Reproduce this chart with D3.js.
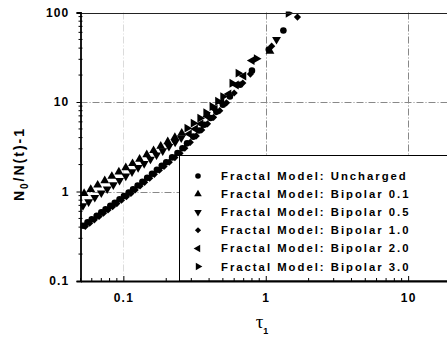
<!DOCTYPE html>
<html>
<head>
<meta charset="utf-8">
<script src="https://cdn.jsdelivr.net/npm/d3@7"></script>
<style>
  html, body { margin: 0; padding: 0; background: #fff; }
  svg { display: block; }
  .tick text { font-family: "Liberation Sans", Arial, sans-serif; font-weight: bold; font-size: 12px; letter-spacing: 1.2px; fill: #000; }
</style>
</head>
<body>
<svg id="chart"></svg>
<script>
// series values: [tau1, N0/N(t)-1]
const uncharged = [
  [0.052, 0.415], [0.056, 0.452], [0.060, 0.489], [0.065, 0.536], [0.070, 0.584],
  [0.075, 0.632], [0.081, 0.691], [0.087, 0.750], [0.094, 0.820], [0.101, 0.891],
  [0.109, 0.972], [0.117, 1.059], [0.126, 1.166], [0.136, 1.287], [0.147, 1.424],
  [0.159, 1.577], [0.172, 1.747], [0.186, 1.934], [0.20, 2.125], [0.22, 2.405],
  [0.24, 2.693], [0.26, 3.04], [0.28, 3.45], [0.31, 4.10], [0.34, 4.81],
  [0.37, 5.56], [0.41, 6.62], [0.45, 7.76], [0.50, 9.30], [0.56, 11.5],
  [0.66, 15.6], [0.80, 22.4], [1.05, 38.6], [1.33, 63]
];
const bipolar01 = [
  [0.053, 0.951], [0.059, 1.056], [0.066, 1.180], [0.074, 1.320], [0.083, 1.478],
  [0.093, 1.653], [0.104, 1.845], [0.116, 2.054], [0.130, 2.298], [0.146, 2.576],
  [0.163, 2.872], [0.183, 3.218], [0.205, 3.598], [0.23, 4.030], [0.257, 4.495],
  [1.07, 37]
];
const bipolar05 = [
  [0.052, 0.694], [0.057, 0.768], [0.063, 0.857], [0.070, 0.962], [0.077, 1.067],
  [0.085, 1.189], [0.094, 1.328], [0.104, 1.483], [0.115, 1.656], [0.127, 1.846],
  [0.140, 2.053], [0.155, 2.296], [0.171, 2.557], [0.189, 2.852], [0.209, 3.185],
  [0.231, 3.554], [0.255, 3.96], [1.19, 50]
];
const bipolar10 = [
  [0.054, 0.407], [0.058, 0.442], [0.0625, 0.482], [0.0675, 0.527], [0.0725, 0.572],
  [0.078, 0.622], [0.084, 0.677], [0.090, 0.733], [0.097, 0.799], [0.105, 0.875],
  [0.113, 0.951], [0.121, 1.040], [0.131, 1.152], [0.141, 1.268], [0.153, 1.410],
  [0.165, 1.556], [0.179, 1.729], [0.193, 1.907], [0.21, 2.128], [0.23, 2.396],
  [0.25, 2.670], [0.27, 3.05], [0.295, 3.54], [0.325, 4.18], [0.355, 4.87],
  [0.39, 5.7], [0.43, 6.75], [0.475, 8.0], [0.53, 9.8], [0.60, 12.6],
  [0.69, 16.3], [0.78, 20.5], [1.10, 42], [1.67, 89]
];
const bipolar20 = [
  [0.29, 4.4], [0.32, 5.0], [0.35, 5.7], [0.39, 6.9], [0.44, 8.3],
  [0.49, 9.9], [0.55, 12.3], [0.62, 15.5], [0.70, 19.5], [0.80, 29]
];
const bipolar30 = [
  [0.28, 5.1], [0.31, 5.8], [0.345, 6.6], [0.38, 7.6], [0.42, 8.9], [0.46, 10.2],
  [0.50, 11.5], [0.58, 16.2], [0.64, 21], [0.86, 30.5], [1.44, 98]
];

const seriesNames = [
  'Fractal Model: Uncharged',
  'Fractal Model: Bipolar 0.1',
  'Fractal Model: Bipolar 0.5',
  'Fractal Model: Bipolar 1.0',
  'Fractal Model: Bipolar 2.0',
  'Fractal Model: Bipolar 3.0'
];
const seriesData = [uncharged, bipolar01, bipolar05, bipolar10, bipolar20, bipolar30];
const xTicks = [0.1, 1, 10];
const yTicks = [0.1, 1, 10, 100];

const width = 447, height = 337;
const plotLeft = 80.5, plotBottom = 281, plotTop = 12.5;

const svg = d3.select('#chart')
  .attr('width', width)
  .attr('height', height);

const x = d3.scaleLog().domain([0.05, 20]).range([plotLeft, 451]);
const y = d3.scaleLog().domain([0.1, 100]).range([plotBottom, plotTop]);

// marker shapes: circle, up, down, diamond, left, right
const tri = d3.symbol().type(d3.symbolTriangle).size(34)();
const markers = [
  { path: d3.symbol().type(d3.symbolCircle).size(34)(), rot: 0 },
  { path: tri, rot: 0 },
  { path: tri, rot: 180 },
  { path: d3.symbol().type(d3.symbolSquare).size(26)(), rot: 45 },
  { path: tri, rot: -90 },
  { path: tri, rot: 90 }
];

svg.append('defs').append('clipPath').attr('id', 'plot-clip')
  .append('rect')
  .attr('x', plotLeft).attr('y', plotTop - 1)
  .attr('width', width - plotLeft).attr('height', plotBottom - plotTop + 1);

// grid
const gridStyle = g => g.attr('stroke', '#888').attr('stroke-width', 1)
  .attr('stroke-dasharray', '7,2,1,2');
svg.append('g').call(gridStyle)
  .selectAll('line').data([1, 10]).enter().append('line')
  .attr('x1', plotLeft).attr('x2', width)
  .attr('y1', d => Math.round(y(d)) + 0.5).attr('y2', d => Math.round(y(d)) + 0.5);
svg.append('g').call(gridStyle)
  .selectAll('line').data(xTicks).enter().append('line')
  .attr('stroke-opacity', d => d === 0.1 ? 0.3 : 1)
  .attr('x1', d => Math.round(x(d)) + 0.5).attr('x2', d => Math.round(x(d)) + 0.5)
  .attr('y1', plotTop).attr('y2', plotBottom);

// points
const plot = svg.append('g').attr('clip-path', 'url(#plot-clip)');
seriesData.forEach((data, i) => {
  plot.append('g')
    .selectAll('path')
    .data(data)
    .enter()
    .append('path')
    .attr('d', markers[i].path)
    .attr('fill', '#000')
    .attr('transform', d => `translate(${x(d[0])},${y(d[1])}) rotate(${markers[i].rot})`);
});

// legend
const legend = svg.append('g');
legend.append('rect')
  .attr('x', 179.5).attr('y', 155.5)
  .attr('width', 300).attr('height', plotBottom - 155.5)
  .attr('fill', '#fff').attr('stroke', '#000').attr('stroke-width', 1);
seriesNames.forEach((name, i) => {
  const ry = 176 + i * 18.1;
  legend.append('path')
    .attr('d', markers[i].path)
    .attr('fill', '#000')
    .attr('transform', `translate(198,${ry}) rotate(${markers[i].rot}) scale(0.85)`);
  legend.append('text')
    .attr('x', 221).attr('y', ry + 4)
    .attr('font-family', '"Liberation Sans", Arial, sans-serif')
    .attr('font-weight', 'bold').attr('font-size', 11.3)
    .attr('letter-spacing', 2.0)
    .text(name);
});

// top frame line at 100
svg.append('line')
  .attr('x1', plotLeft).attr('x2', width)
  .attr('y1', Math.round(y(100)) + 0.5).attr('y2', Math.round(y(100)) + 0.5)
  .attr('stroke', '#222').attr('stroke-width', 1.2);

// y axis
const yAxis = svg.append('g')
  .attr('transform', `translate(${plotLeft},0)`)
  .call(d3.axisLeft(y).tickValues(yTicks).tickFormat(d => d).tickSize(4).tickPadding(7));
yAxis.select('.domain').attr('stroke-width', 1.8);
svg.append('g').attr('transform', `translate(${plotLeft},0)`)
  .selectAll('line').data(y.ticks().filter(d => !yTicks.includes(d))).enter().append('line')
  .attr('x1', -2).attr('x2', 2)
  .attr('y1', d => y(d)).attr('y2', d => y(d))
  .attr('stroke', '#000');

// x axis
const xAxis = svg.append('g')
  .attr('transform', `translate(0,${plotBottom})`)
  .call(d3.axisBottom(x).tickValues(xTicks).tickFormat(d => d).tickSizeInner(-5).tickSizeOuter(0).tickPadding(12));
xAxis.select('.domain').attr('stroke-width', 1.8);
svg.append('g').attr('transform', `translate(0,${plotBottom})`)
  .selectAll('line').data(x.ticks().filter(d => !xTicks.includes(d))).enter().append('line')
  .attr('x1', d => x(d)).attr('x2', d => x(d))
  .attr('y1', 0).attr('y2', -3)
  .attr('stroke', '#000');

// axis titles
const yTitle = svg.append('text')
  .attr('transform', 'translate(24,164) rotate(-90)')
  .attr('text-anchor', 'middle')
  .attr('font-family', '"Liberation Sans", Arial, sans-serif')
  .attr('font-weight', 'bold').attr('font-size', 14)
  .attr('letter-spacing', 2);
yTitle.append('tspan').text('N');
yTitle.append('tspan').attr('font-size', 10).attr('dy', 4).text('0');
yTitle.append('tspan').attr('dy', -4).text('/N(t)-1');

const xTitle = svg.append('text')
  .attr('x', 262).attr('y', 328)
  .attr('text-anchor', 'middle')
  .attr('font-family', '"Liberation Serif", "Times New Roman", serif')
  .attr('font-size', 19);
xTitle.append('tspan').text('τ');
xTitle.append('tspan').attr('font-size', 9).attr('font-weight', 'bold')
  .attr('font-family', '"Liberation Sans", Arial, sans-serif').attr('dy', 6).text('1');
</script>
</body>
</html>
